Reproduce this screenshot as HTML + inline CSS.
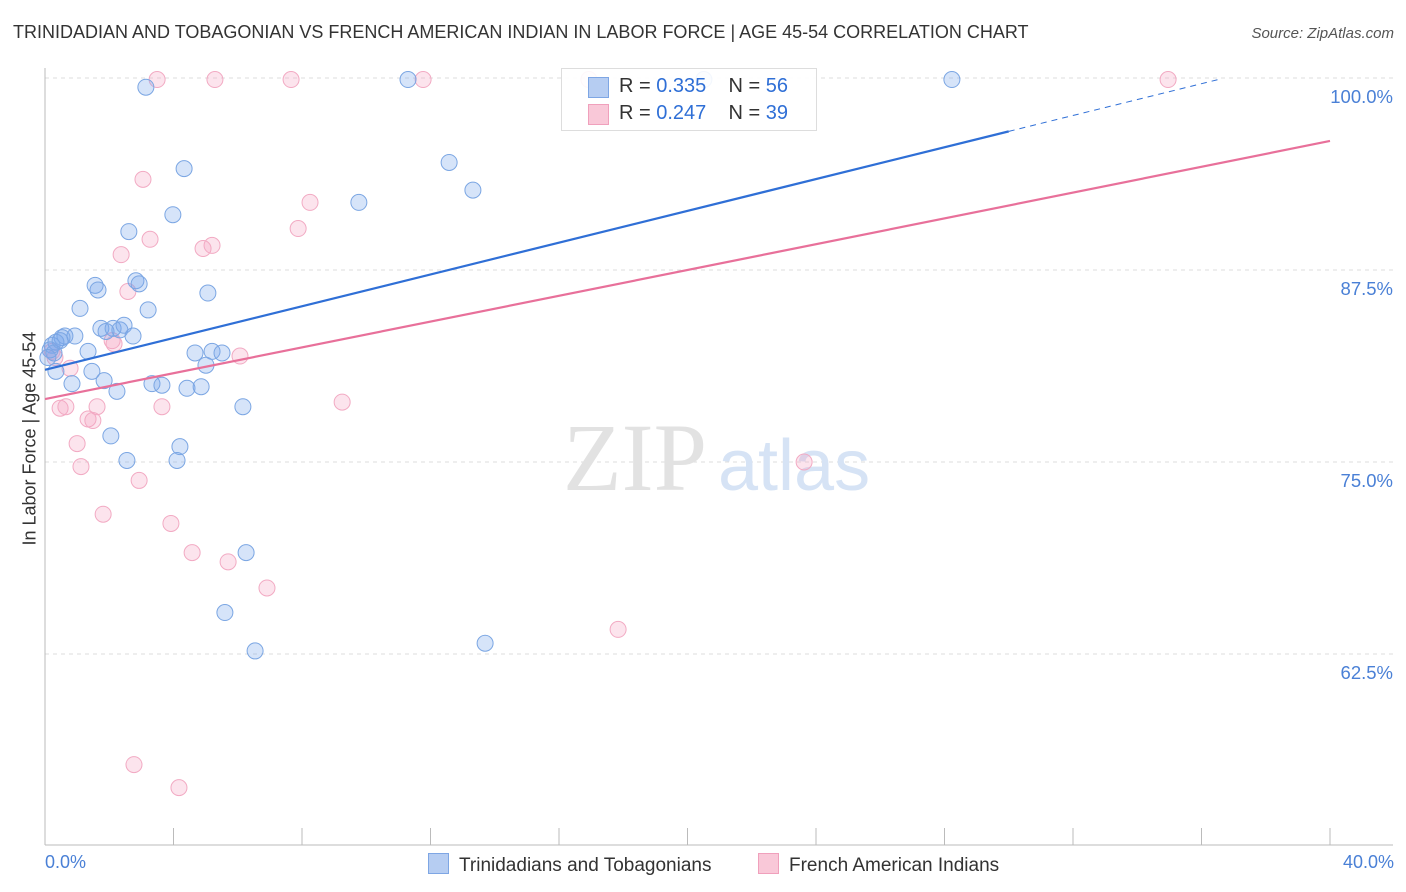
<!DOCTYPE html>
<html><head><meta charset="utf-8">
<style>
body{margin:0;background:#fff;font-family:"Liberation Sans",sans-serif;}
#wrap{position:relative;width:1406px;height:892px;overflow:hidden;}
.t{position:absolute;white-space:nowrap;}
</style></head><body>
<div id="wrap">
<div class="t" style="left:13px;top:22px;font-size:18px;color:#333;">TRINIDADIAN AND TOBAGONIAN VS FRENCH AMERICAN INDIAN IN LABOR FORCE | AGE 45-54 CORRELATION CHART</div>
<div class="t" style="right:12px;top:25px;font-size:15px;color:#555;font-style:italic;">Source: ZipAtlas.com</div>
<svg id="svg" width="1406" height="892" style="position:absolute;left:0;top:0"></svg>
</div>
<script>
const blueX=[3.14,11.30,28.23,20.51,4.33,12.58,13.32,3.98,9.77,2.61,2.83,2.93,1.56,1.65,5.07,1.09,3.21,1.74,2.12,2.33,2.46,1.90,2.74,0.93,0.62,0.53,0.34,0.22,0.16,0.28,1.34,4.67,5.20,5.51,5.01,1.46,0.34,1.84,0.84,3.33,3.64,4.42,4.86,2.24,6.16,4.20,2.05,4.11,2.55,6.26,5.60,6.54,13.70,0.47,0.09];
const blueY=[99.4,99.9,99.9,99.9,94.1,94.5,92.7,91.1,91.9,90.0,86.8,86.6,86.5,86.2,86.0,85.0,84.9,83.7,83.7,83.6,83.9,83.5,83.2,83.2,83.2,83.1,82.8,82.6,82.3,82.1,82.2,82.1,82.2,82.1,81.3,80.9,80.9,80.3,80.1,80.1,80.0,79.8,79.9,79.6,78.6,76.0,76.7,75.1,75.1,69.1,65.2,62.7,63.2,82.9,81.8];
const pinkX=[3.49,5.29,7.66,11.77,16.93,34.96,3.05,8.25,7.88,3.27,5.20,4.92,2.37,2.58,2.09,2.15,6.07,0.31,0.78,9.25,3.64,0.47,0.65,1.62,1.34,1.49,1.00,1.12,2.93,1.81,3.92,4.58,5.70,6.91,17.84,23.63,2.77,4.17,0.22];
const pinkY=[99.9,99.9,99.9,99.9,99.9,99.9,93.4,91.9,90.2,89.5,89.1,88.9,88.5,86.1,82.9,82.7,81.9,81.8,81.1,78.9,78.6,78.5,78.6,78.6,77.8,77.7,76.2,74.7,73.8,71.6,71.0,69.1,68.5,66.8,64.1,75.0,55.3,53.8,82.2];
const blueTrend=[81.0,101.7];
const pinkTrend=[79.1,95.9];
const yTicks=[100,87.5,75,62.5];
const yTickLabels=["100.0%","87.5%","75.0%","62.5%"];

const X=v=>45+v/40*1285;
const Y=v=>78+(100-v)/12.5*192;
const svg=document.getElementById('svg');
const NS='http://www.w3.org/2000/svg';
function mk(tag,attrs,parent){const e=document.createElementNS(NS,tag);for(const k in attrs)e.setAttribute(k,attrs[k]);(parent||svg).appendChild(e);return e;}

yTicks.forEach((t,i)=>{
  const g=mk('line',{x1:45,x2:1393,y1:Y(t),y2:Y(t),stroke:'#ddd','stroke-dasharray':'4,4'});
  
  
  const tx=mk('text',{x:1393,y:Y(t)+25,'text-anchor':'end','font-size':18.5,fill:'#4a80d6','font-family':'Liberation Sans, sans-serif'});
  tx.textContent=yTickLabels[i];
  
  
});
const ax=mk('line',{x1:45,x2:1393,y1:845,y2:845,stroke:'#bbb'});


const ay=mk('line',{x1:45,x2:45,y1:68,y2:845,stroke:'#bbb'});


for(let i=0;i<=10;i++){
  const tk=mk('line',{x1:X(i*4),x2:X(i*4),y1:828,y2:845,stroke:'#bbb'});
  
  
}
const w1=mk('text',{x:635,y:490,'text-anchor':'middle','font-size':96,fill:'#e2e2e2','font-family':'Liberation Serif, serif'});
w1.textContent='ZIP';


const w2=mk('text',{x:718,y:490,'font-size':72,fill:'#d6e3f5','font-family':'Liberation Sans, sans-serif'});
w2.textContent='atlas';



function pts(xs,ys,fill,stroke,name){
  xs.forEach((x,i)=>{
    const c=mk('circle',{cx:X(x),cy:Y(ys[i]),r:8,fill:fill,stroke:stroke,'stroke-width':1});
    
    
  });
}
pts(pinkX,pinkY,'rgba(244,165,195,0.3)','#f2aac3','point-french-american-indian');
pts(blueX,blueY,'rgba(120,165,235,0.3)','#7ba6e3','point-trinidadian');

const bx1=30.0,bx2=36.6;
const by=x=>blueTrend[0]+(blueTrend[1]-blueTrend[0])*x/40;
const bl=mk('line',{x1:X(0),y1:Y(by(0)),x2:X(bx1),y2:Y(by(bx1)),stroke:'#2f6fd6','stroke-width':2.2});


const bd=mk('line',{x1:X(bx1),y1:Y(by(bx1)),x2:X(bx2),y2:Y(by(bx2)),stroke:'#2f6fd6','stroke-width':1,'stroke-dasharray':'6,5'});


const pl=mk('line',{x1:X(0),y1:Y(pinkTrend[0]),x2:X(40),y2:Y(pinkTrend[1]),stroke:'#e8709a','stroke-width':2.2});


</script>
<div class="t" style="left:-60px;top:445px;width:180px;text-align:center;transform:rotate(-90deg);font-size:18px;color:#333;">In Labor Force | Age 45-54</div>
<div class="t" style="left:45px;top:852px;font-size:18px;color:#4a80d6;">0.0%</div>
<div class="t" style="right:12px;top:852px;font-size:18px;color:#4a80d6;">40.0%</div>
<div style="position:absolute;left:561px;top:68px;width:254px;height:61px;border:1px solid #ddd;background:rgba(255,255,255,0.9);font-size:20px;color:#333;">
  <div style="position:absolute;left:26px;top:8px;width:19px;height:19px;background:#b6cdf2;border:1px solid #7ea6e4;"></div>
  <div class="t" style="left:57px;top:6px;">R = <span style="color:#2f6fd6">0.335</span>&nbsp;&nbsp;&nbsp; N = <span style="color:#2f6fd6">56</span></div>
  <div style="position:absolute;left:26px;top:35px;width:19px;height:19px;background:#f9c8d8;border:1px solid #f0a0bc;"></div>
  <div class="t" style="left:57px;top:33px;">R = <span style="color:#2f6fd6">0.247</span>&nbsp;&nbsp;&nbsp; N = <span style="color:#2f6fd6">39</span></div>
</div>
<div style="position:absolute;left:428px;top:853px;font-size:19px;color:#333;">
  <span style="position:absolute;left:0;top:0;white-space:nowrap;"><span style="display:inline-block;width:19px;height:19px;background:#b6cdf2;border:1px solid #7ea6e4;vertical-align:-3px;margin-right:10px;"></span>Trinidadians and Tobagonians</span>
  <span style="position:absolute;left:330px;top:0;white-space:nowrap;"><span style="display:inline-block;width:19px;height:19px;background:#f9c8d8;border:1px solid #f0a0bc;vertical-align:-3px;margin-right:10px;"></span>French American Indians</span>
</div>
</body></html>
